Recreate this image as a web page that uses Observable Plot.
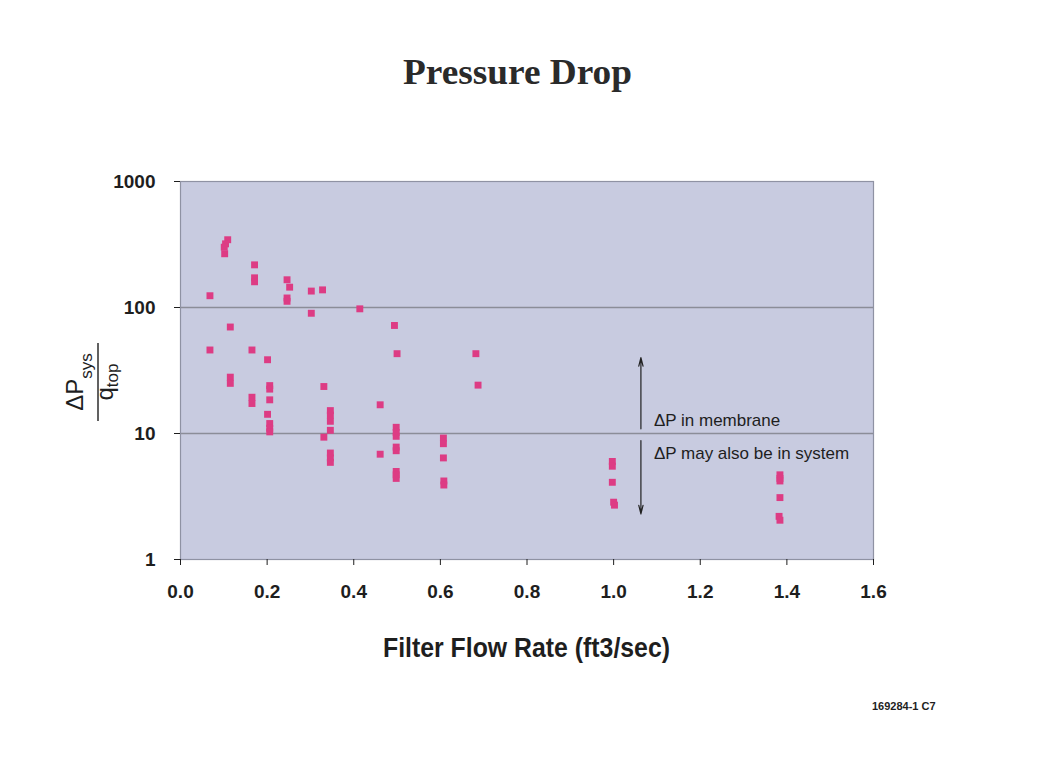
<!DOCTYPE html>
<html>
<head>
<meta charset="utf-8">
<script src="https://cdn.jsdelivr.net/npm/d3@7"></script>
<script src="https://cdn.jsdelivr.net/npm/@observablehq/plot@0.6"></script>
<style>
  html, body { margin: 0; padding: 0; background: #ffffff; }
  #chart svg { display: block; }
</style>
</head>
<body>
<div id="chart"></div>
<script>
// ---- Data ----
const flowRate = [
  0.068, 0.068,
  0.109, 0.104, 0.101, 0.102,
  0.115, 0.115, 0.115,
  0.171, 0.171, 0.171, 0.165, 0.165, 0.165,
  0.201, 0.206, 0.206, 0.206, 0.201, 0.206, 0.206, 0.206,
  0.246, 0.246, 0.246, 0.252,
  0.302, 0.302, 0.328,
  0.331, 0.331,
  0.346, 0.346, 0.346, 0.346, 0.346, 0.346, 0.346,
  0.414,
  0.461, 0.461,
  0.494, 0.500, 0.498, 0.498, 0.498, 0.498, 0.498, 0.498, 0.498, 0.498,
  0.607, 0.607, 0.607, 0.608, 0.608,
  0.682, 0.687,
  0.997, 0.997, 0.997, 1.000, 1.002,
  1.384, 1.384, 1.384, 1.384, 1.382, 1.384
];
const pressureRatio = [
  124, 46,
  345, 320, 301, 267,
  70, 28, 25,
  218, 172, 160, 46, 19.4, 17.3,
  38.5, 24, 22.5, 18.5, 14.2, 12, 11, 10.3,
  166, 119, 112, 145,
  135, 90, 138,
  23.6, 9.35,
  15.2, 14, 12.5, 10.6, 7, 6.4, 5.9,
  97.6,
  16.9, 6.85,
  72, 43, 11.2, 10.2, 9.5, 7.8, 7.3, 5.0, 4.7, 4.4,
  9.2, 8.3, 6.4, 4.2, 3.9,
  43, 24.2,
  6.0, 5.5, 4.1, 2.85, 2.7,
  4.7, 4.4, 4.2, 3.1, 2.2, 2.05
];
const xTicks = [0.0, 0.2, 0.4, 0.6, 0.8, 1.0, 1.2, 1.4, 1.6];
const yTicks = [1, 10, 100, 1000];
const gridValues = [10, 100];

// annotation
const arrowX = 1.063;
const arrowFrom = [10.9, 8.8];
const arrowTo = [40, 2.3];
const noteLabels = ["ΔP in membrane", "ΔP may also be in system"];
const noteX = 1.093;
const noteY = [12.6, 6.9];

const titleText = "Pressure Drop";
const xLabelText = "Filter Flow Rate (ft3/sec)";
const footerText = "169284-1 C7";

// ---- Build tables ----
const points = flowRate.map((x, i) => ({x, y: pressureRatio[i]}));
const arrows = arrowFrom.map((y1, i) => ({x: arrowX, y1, y2: arrowTo[i]}));
const notes = noteLabels.map((t, i) => ({x: noteX, y: noteY[i], t}));

const W = 1058, H = 774;
const chart = Plot.plot({
  width: W,
  height: H,
  marginLeft: 180,
  marginRight: 185,
  marginTop: 181,
  marginBottom: 215,
  style: {background: "transparent", fontFamily: "Arial, 'Liberation Sans', sans-serif"},
  x: {domain: [0, 1.6]},
  y: {type: "log", domain: [1, 1000]},
  marks: [
    Plot.frame({fill: "#c8cbe0", stroke: null}),
    Plot.ruleY(gridValues, {stroke: "#8b8d98", strokeWidth: 1.3}),
    Plot.frame({stroke: "#8f92a3", strokeWidth: 1.2}),
    Plot.axisY({ticks: yTicks, tickFormat: d => String(d), tickSize: 6, tickPadding: 19,
      fontSize: 19, fontWeight: "bold", color: "#1e1e1e", label: null}),
    Plot.axisX({ticks: xTicks, tickFormat: d => d.toFixed(1), tickSize: 6, tickPadding: 19,
      fontSize: 19, fontWeight: "bold", color: "#1e1e1e", label: null}),
    Plot.dot(points, {x: "x", y: "y", symbol: "square", r: 3.9, fill: "#dd3c84", stroke: null}),
    Plot.arrow(arrows, {x: "x", y1: "y1", y2: "y2", stroke: "#222", strokeWidth: 1.2, headLength: 11, headAngle: 28}),
    Plot.text(notes, {x: "x", y: "y", text: "t", textAnchor: "start", lineAnchor: "middle",
      fontSize: 17, fill: "#1e1e1e"})
  ]
});

const svg = d3.select(chart);
// title
svg.append("text")
  .attr("x", 517.5).attr("y", 84)
  .attr("text-anchor", "middle")
  .attr("font-family", "'Liberation Serif', 'Times New Roman', serif")
  .attr("font-weight", "bold")
  .attr("font-size", 35)
  .attr("textLength", 229)
  .attr("lengthAdjust", "spacingAndGlyphs")
  .attr("fill", "#2a2a2a")
  .text(titleText);
// x label
svg.append("text")
  .attr("x", 526.5).attr("y", 657)
  .attr("text-anchor", "middle")
  .attr("font-family", "Arial, 'Liberation Sans', sans-serif")
  .attr("font-weight", "bold")
  .attr("font-size", 27)
  .attr("textLength", 287)
  .attr("lengthAdjust", "spacingAndGlyphs")
  .attr("fill", "#1e1e1e")
  .text(xLabelText);
// y label (fraction)
const g = svg.append("g")
  .attr("transform", "translate(98,382) rotate(-90)")
  .attr("font-family", "Arial, 'Liberation Sans', sans-serif")
  .attr("fill", "#1e1e1e");
const num = g.append("text").attr("x", 0).attr("y", -15).attr("text-anchor", "middle").attr("font-size", 24);
num.append("tspan").text("ΔP");
num.append("tspan").attr("font-size", 17).attr("dy", 9).text("sys");
g.append("line").attr("x1", -39).attr("x2", 39).attr("y1", 0).attr("y2", 0)
  .attr("stroke", "#1e1e1e").attr("stroke-width", 1.4);
const den = g.append("text").attr("x", 0).attr("y", 15).attr("text-anchor", "middle").attr("font-size", 24);
den.append("tspan").text("q");
den.append("tspan").attr("font-size", 17).attr("dy", 5).text("top");
// footer
svg.append("text")
  .attr("x", 872).attr("y", 710)
  .attr("text-anchor", "start")
  .attr("font-family", "Arial, 'Liberation Sans', sans-serif")
  .attr("font-weight", "bold")
  .attr("font-size", 11)
  .attr("fill", "#1e1e1e")
  .text(footerText);

document.getElementById("chart").appendChild(chart);
</script>
</body>
</html>
